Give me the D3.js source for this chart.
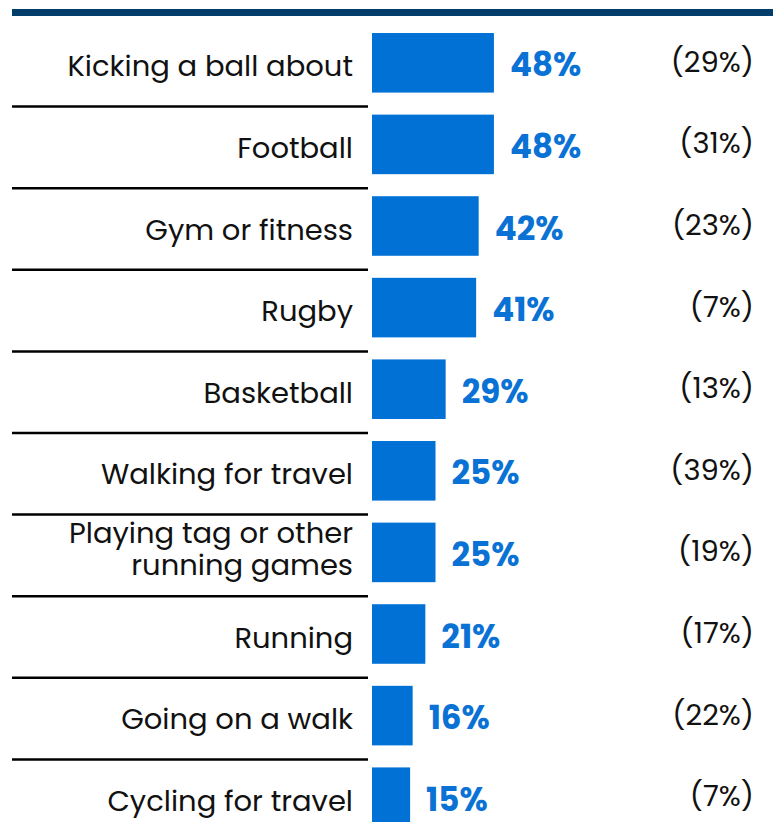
<!DOCTYPE html>
<html>
<head>
<meta charset="utf-8">
<script src="https://cdn.jsdelivr.net/npm/d3@7"></script>
<style>
	html, body { margin: 0; padding: 0; background: #fff; }
	svg { display: block; }
</style>
</head>
<body>
<div id="chart"></div>
<script>
// data
const activities = [
	"Kicking a ball about",
	"Football",
	"Gym or fitness",
	"Rugby",
	"Basketball",
	"Walking for travel",
	"Playing tag or other|running games",
	"Running",
	"Going on a walk",
	"Cycling for travel"
];
const shares = [48, 48, 42, 41, 29, 25, 25, 21, 16, 15];
const comparison = [29, 31, 23, 7, 13, 39, 19, 17, 22, 7];

const rows = activities.map((name, i) => ({
	name: name,
	value: shares[i],
	other: comparison[i]
}));

const createChart = () => {
	const dimensions = { width: 773, height: 822 };
	const font = "'Poppins', 'DejaVu Sans', sans-serif";

	const svg = d3
		.select("#chart")
		.append("svg")
		.attr("width", dimensions.width)
		.attr("height", dimensions.height);

	// scales
	const xScale = d3.scaleLinear().domain([0, 100]).range([372, 626]);

	const yScale = d3
		.scaleBand()
		.domain(rows.map((d) => d.name))
		.range([22, 22 + 81.6 * rows.length])
		.paddingInner(0.27)
		.paddingOuter(0.135);

	const mid = (d) => yScale(d.name) + yScale.bandwidth() / 2;

	// header rule
	svg
		.append("rect")
		.attr("x", 12)
		.attr("y", 9)
		.attr("width", dimensions.width - 12)
		.attr("height", 7)
		.attr("fill", "#003d6a");

	// row separators
	svg
		.selectAll(".sep")
		.data(rows.slice(1))
		.join("line")
		.attr("class", "sep")
		.attr("x1", 12)
		.attr("x2", 368)
		.attr("y1", (d) => yScale(d.name) - 8)
		.attr("y2", (d) => yScale(d.name) - 8)
		.attr("stroke", "#000")
		.attr("stroke-width", 2.5);

	// bars
	svg
		.selectAll(".bar")
		.data(rows)
		.join("rect")
		.attr("class", "bar")
		.attr("x", xScale(0))
		.attr("y", (d) => yScale(d.name))
		.attr("width", (d) => xScale(d.value) - xScale(0))
		.attr("height", yScale.bandwidth())
		.attr("fill", "#0271d6");

	// category labels
	const labels = svg
		.selectAll(".label")
		.data(rows)
		.join("text")
		.attr("class", "label")
		.attr("text-anchor", "end")
		.attr("font-family", font)
		.attr("font-size", 29)
		.attr("fill", "#111");

	labels.each(function (d) {
		const lines = d.name.split("|");
		const el = d3.select(this);
		const start = lines.length > 1 ? mid(d) - 9 : mid(d) + 13.5;
		lines.forEach((line, i) => {
			el.append("tspan")
				.attr("x", 353)
				.attr("y", start + i * 32)
				.text(line);
		});
	});

	// value labels
	svg
		.selectAll(".value")
		.data(rows)
		.join("text")
		.attr("class", "value")
		.attr("x", (d) => xScale(d.value) + 16)
		.attr("y", (d) => mid(d) + 13.5)
		.attr("font-family", font)
		.attr("font-weight", "bold")
		.attr("font-size", 32.5)
		.attr("fill", "#0a72d4")
		.text((d) => d.value + "%");

	// comparison column
	svg
		.selectAll(".other")
		.data(rows)
		.join("text")
		.attr("class", "other")
		.attr("x", 754)
		.attr("y", (d) => mid(d) + 9)
		.attr("text-anchor", "end")
		.attr("font-family", font)
		.attr("font-size", 29)
		.attr("fill", "#111")
		.text((d) => "(" + d.other + "%)");
};

createChart();
</script>
</body>
</html>
